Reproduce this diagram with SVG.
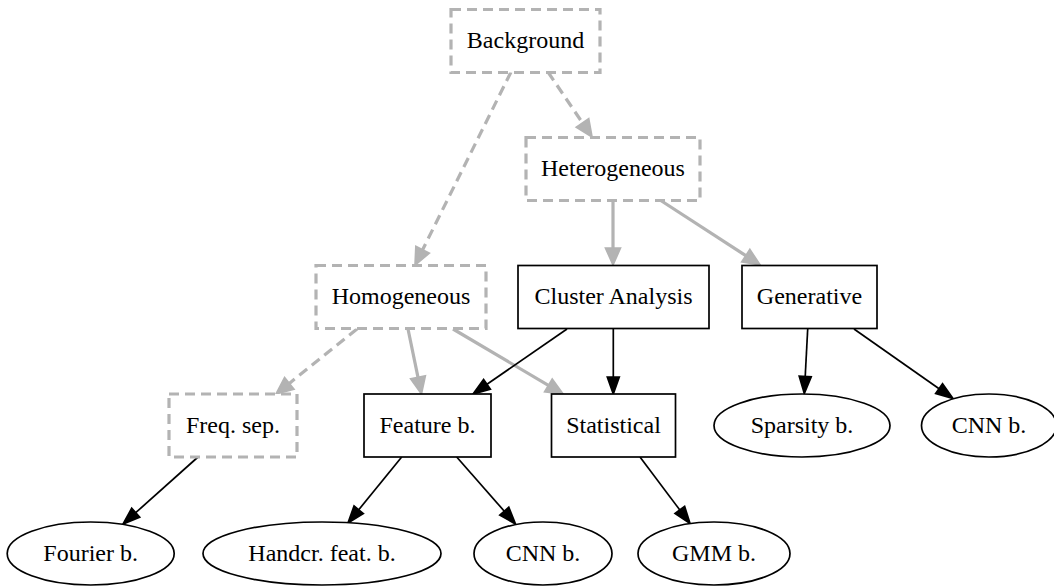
<svg xmlns="http://www.w3.org/2000/svg" width="1054" height="586" viewBox="0 0 1054 586">
  <style>
    text { font-family: "Liberation Serif", "Times New Roman", serif; font-size: 24px; text-anchor: middle; fill: #000; }
    .box { fill: #fff; stroke: #000; stroke-width: 1.7; }
    .dbox { fill: #fff; stroke: #b3b3b3; stroke-width: 3.2; stroke-dasharray: 10 6; }
    .ell { fill: #fff; stroke: #000; stroke-width: 1.7; }
    .e-black { fill: none; stroke: #000; stroke-width: 1.7; marker-end: url(#head-black); }
    .e-gray { fill: none; stroke: #b3b3b3; stroke-width: 3.2; marker-end: url(#head-gray); }
    .e-gray-dash { fill: none; stroke: #b3b3b3; stroke-width: 3.2; stroke-dasharray: 10 6; marker-end: url(#head-gray); }
  </style>
  <defs>
    <!-- arrowheads: base sits at the end of each connector path, tip 17px ahead -->
    <marker id="head-black" markerUnits="userSpaceOnUse" markerWidth="20" markerHeight="16" refX="0" refY="7" orient="auto" overflow="visible">
      <path d="M0,1 L17,7 L0,13 z" fill="#000" stroke="#000" stroke-width="1.7" stroke-dasharray="none"/>
    </marker>
    <marker id="head-gray" markerUnits="userSpaceOnUse" markerWidth="20" markerHeight="18" refX="0" refY="7" orient="auto" overflow="visible">
      <path d="M0,-0.5 L17,7 L0,14.5 z" fill="#b3b3b3" stroke="#b3b3b3" stroke-width="1.7" stroke-dasharray="none"/>
    </marker>
  </defs>

  <g id="edges">
    <path class="e-gray-dash" d="M548,72 L582.5,122.9"/>
    <path class="e-gray-dash" d="M511,72 L422.6,249.8"/>
    <path class="e-gray" d="M613,201 L613,248"/>
    <path class="e-gray" d="M660,200 L745.8,255.7"/>
    <path class="e-gray-dash" d="M357,329 L289.3,383.4"/>
    <path class="e-gray" d="M408,329 L418,377.4"/>
    <path class="e-gray" d="M453,329 L548.4,385.4"/>
    <path class="e-black" d="M567,329 L487,384.3"/>
    <path class="e-black" d="M613.3,329 L613.3,377"/>
    <path class="e-black" d="M807.7,329 L805.2,376.5"/>
    <path class="e-black" d="M854,329 L939.1,388.7"/>
    <path class="e-black" d="M198,457 L135.7,512.7"/>
    <path class="e-black" d="M401.7,457 L358.7,509.8"/>
    <path class="e-black" d="M456.7,457 L504.3,511.2"/>
    <path class="e-black" d="M640,457 L679.8,509.9"/>
  </g>

  <g id="background">
    <rect class="dbox" x="451" y="9.5" width="149" height="63"/>
    <text x="525.5" y="47.5">Background</text>
  </g>
  <g id="heterogeneous">
    <rect class="dbox" x="526" y="137.5" width="174" height="63"/>
    <text x="613" y="176">Heterogeneous</text>
  </g>
  <g id="homogeneous">
    <rect class="dbox" x="316" y="265.5" width="170" height="63"/>
    <text x="401" y="304">Homogeneous</text>
  </g>
  <g id="cluster-analysis">
    <rect class="box" x="518" y="265.5" width="191" height="63"/>
    <text x="613.5" y="304">Cluster Analysis</text>
  </g>
  <g id="generative">
    <rect class="box" x="742" y="265.5" width="135" height="63"/>
    <text x="809.5" y="304">Generative</text>
  </g>
  <g id="freq-sep">
    <rect class="dbox" x="169" y="394" width="128" height="63"/>
    <text x="233" y="432.5">Freq. sep.</text>
  </g>
  <g id="feature-b">
    <rect class="box" x="364" y="394" width="127" height="63"/>
    <text x="427.5" y="432.5">Feature b.</text>
  </g>
  <g id="statistical">
    <rect class="box" x="551.5" y="394" width="124" height="63"/>
    <text x="613.5" y="432.5">Statistical</text>
  </g>
  <g id="sparsity-b">
    <ellipse class="ell" cx="802" cy="425.5" rx="88" ry="31.5"/>
    <text x="802" y="432.5">Sparsity b.</text>
  </g>
  <g id="cnn-b-generative">
    <ellipse class="ell" cx="989" cy="425.5" rx="67.5" ry="31.5"/>
    <text x="989" y="432.5">CNN b.</text>
  </g>
  <g id="fourier-b">
    <ellipse class="ell" cx="90.7" cy="553.5" rx="83.5" ry="31.5"/>
    <text x="90.7" y="560.5">Fourier b.</text>
  </g>
  <g id="handcr-feat-b">
    <ellipse class="ell" cx="322" cy="553.5" rx="119" ry="31.5"/>
    <text x="322" y="560.5">Handcr. feat. b.</text>
  </g>
  <g id="cnn-b-feature">
    <ellipse class="ell" cx="543" cy="553.5" rx="69" ry="31.5"/>
    <text x="543" y="560.5">CNN b.</text>
  </g>
  <g id="gmm-b">
    <ellipse class="ell" cx="714" cy="553.5" rx="76" ry="31.5"/>
    <text x="714" y="560.5">GMM b.</text>
  </g>
</svg>
